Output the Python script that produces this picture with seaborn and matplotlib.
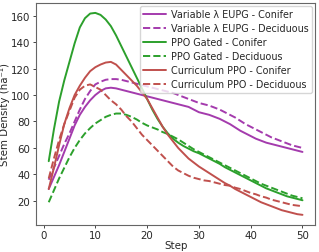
import numpy as np
import pandas as pd
import matplotlib
matplotlib.use("Agg")
import matplotlib.pyplot as plt
import seaborn as sns

steps = list(range(1, 51))

# Variable lambda EUPG
eupg_conifer = [29, 38, 47, 57, 67, 77, 85, 91, 96, 100, 103, 105, 105.5, 105, 104, 103, 102, 101, 100, 99,
                98, 97, 96, 95, 94, 93, 92, 91, 89, 87, 86, 85, 83.5, 82, 80, 78, 75.5, 73, 71, 69,
                67, 65.5, 64, 63, 62, 61, 60, 59, 58, 57]
eupg_decid = [36, 45, 54, 63, 71, 80, 89, 97, 103, 108, 110, 111.5, 112, 112, 111.5, 110.5, 109.5, 108.5, 107.5, 106.5,
              105.5, 104.5, 103.5, 102.5, 101.5, 100, 98.5, 97, 95.5, 94, 93, 92, 90.5, 89, 87, 85, 83, 80.5, 78, 76,
              74, 72, 70, 68, 66.5, 65, 63.5, 62, 61, 60]
# PPO Gated
gated_conifer = [50, 74, 95, 111, 125, 139, 151, 158, 161.5, 162, 160.5, 157, 152, 145, 137, 129, 121, 113, 105, 97,
                 89, 82, 76, 71, 67, 64, 61.5, 59.5, 57.5, 56, 54, 52, 50, 48, 45.5, 43.5, 41.5, 39.5, 37.5, 35.5,
                 33.5, 31.5, 29.5, 28, 26.5, 25, 23.5, 22.5, 21.5, 20.5]
gated_decid = [19, 28, 37, 45, 53, 60, 66, 71, 75, 78.5, 81, 83.5, 85, 86, 86, 85, 83.5, 81.5, 79, 77,
               75.5, 74, 72, 70.5, 68.5, 66.5, 64, 61.5, 59, 57, 55, 53, 51, 49, 47, 45, 43, 41, 39, 37,
               35, 33, 31.5, 30, 28.5, 27, 25.5, 24, 23, 22]
# Curriculum PPO
curr_conifer = [29, 45, 62, 78, 90, 100, 107, 113, 118, 121, 123, 124.5, 125, 123, 119, 115, 111, 107, 102, 97,
                90, 83, 76, 70, 65, 60, 56, 52, 49, 46, 43.5, 41, 38.5, 36, 33.5, 31.5, 29, 27, 25, 23,
                21, 19, 17.5, 16, 14.5, 13, 12, 11, 10, 9.5]
curr_decid = [37, 52, 66, 78, 88, 98, 104, 107, 108, 106, 104, 100, 96, 93, 89, 84, 80, 75, 70, 66,
              62, 58, 54, 50, 46, 43, 41, 39, 37.5, 36.5, 35.5, 35, 34, 33, 32, 31.5, 30, 29, 27.5, 26,
              25, 23.5, 22.5, 21, 20, 19, 18, 17, 16.5, 16]

series = [
    ("Variable \u03bb EUPG - Conifer", eupg_conifer, "#a43bad", "-"),
    ("Variable \u03bb EUPG - Deciduous", eupg_decid, "#a43bad", "--"),
    ("PPO Gated - Conifer", gated_conifer, "#2ca02c", "-"),
    ("PPO Gated - Deciduous", gated_decid, "#2ca02c", "--"),
    ("Curriculum PPO - Conifer", curr_conifer, "#c0504d", "-"),
    ("Curriculum PPO - Deciduous", curr_decid, "#c0504d", "--"),
]

sns.set_style("ticks")
plt.rcParams['font.family'] = ['DejaVu Sans']

fig, ax = plt.subplots(figsize=(3.19, 2.53), dpi=100)
for name, vals, col, ls in series:
    df = pd.DataFrame({"Step": steps, "Value": vals})
    sns.lineplot(data=df, x="Step", y="Value", ax=ax, color=col, linestyle=ls,
                 linewidth=1.4, label=name)

ax.set_xlabel("Step", fontsize=7.4, labelpad=0)
ax.set_ylabel("Stem Density (ha\u207b\u00b9)", fontsize=7.4, labelpad=1)
ax.tick_params(labelsize=7.4, length=2.5, width=0.6, pad=1.5)
ax.set_xticks([0, 10, 20, 30, 40, 50])
ax.set_yticks([20, 40, 60, 80, 100, 120, 140, 160])
for s in ax.spines.values():
    s.set_color("#666666")
    s.set_linewidth(0.8)
ax.legend(loc="upper right", fontsize=6.9, frameon=True, handlelength=2.4,
          borderpad=0.35, labelspacing=0.42, handletextpad=0.5, borderaxespad=0.3)
fig.subplots_adjust(left=0.113, right=0.988, top=0.985, bottom=0.107)
fig.savefig("out.png", dpi=100)
